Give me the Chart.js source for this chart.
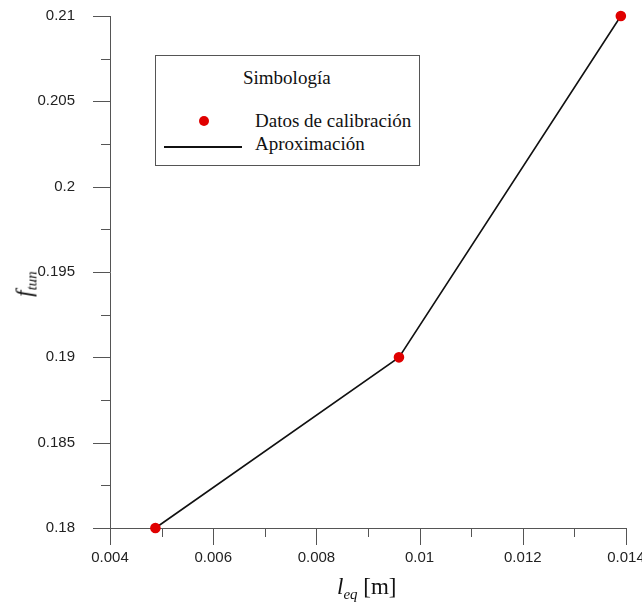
<!DOCTYPE html>
<html>
<head>
<meta charset="utf-8">
<script src="https://cdn.jsdelivr.net/npm/chart.js@4.4.1/dist/chart.umd.min.js"></script>
<style>
  html, body { margin: 0; padding: 0; background: #fff; }
  #wrap { position: relative; width: 642px; height: 603px; }
  canvas { position: absolute; left: 0; top: 0; }
  .serif { font-family: "Liberation Serif", "Times New Roman", serif; color: #111; position: absolute; white-space: nowrap; line-height: 1; }
  #legend { position: absolute; left: 155px; top: 55px; width: 263px; height: 109px; border: 1px solid #555; background: #fff; }
  #legend .title { left: 87px; top: 12px; font-size: 19px; }
  #legend .dot { position: absolute; left: 43px; top: 60px; width: 10px; height: 10px; border-radius: 50%; background: #e00000; }
  #legend .line { position: absolute; left: 8px; top: 90px; width: 78px; height: 2px; background: #111; }
  #legend .lbl1 { left: 99px; top: 55px; font-size: 19px; }
  #legend .lbl2 { left: 99px; top: 78px; font-size: 19px; }
  #xtitle { left: 337px; top: 575px; font-size: 23px; }
  #ytitle { left: 26px; top: 284px; font-size: 23px; transform: translate(-50%, -50%) rotate(-90deg); }
  sub { font-size: 15px; vertical-align: -5px; }
</style>
</head>
<body>
<div id="wrap">
  <canvas id="chart" width="642" height="603"></canvas>
  <div id="legend">
    <div class="serif title">Simbología</div>
    <span class="dot"></span>
    <div class="serif lbl1">Datos de calibración</div>
    <span class="line"></span>
    <div class="serif lbl2">Aproximación</div>
  </div>
  <div id="xtitle" class="serif"><i>l</i><sub><i>eq</i></sub> [m]</div>
  <div id="ytitle" class="serif"><i>f</i><sub><i>tun</i></sub></div>
</div>
<script>
// ── Data ──────────────────────────────────────────────────
const leq  = [0.00488, 0.0096, 0.0139];
const ftun = [0.18, 0.19, 0.21];

const xTicks = [0.004, 0.006, 0.008, 0.01, 0.012, 0.014];
const xTickLabels = ['0.004', '0.006', '0.008', '0.01', '0.012', '0.014'];
const yTicks = [0.18, 0.185, 0.19, 0.195, 0.2, 0.205, 0.21];
const yTickLabels = ['0.18', '0.185', '0.19', '0.195', '0.2', '0.205', '0.21'];

const AXIS_COLOR = '#555';

// majors + one minor between each pair
function withMinors(majors, labels) {
  const out = [];
  majors.forEach((v, i) => {
    out.push({ value: v, label: labels[i], major: true });
    if (i < majors.length - 1) out.push({ value: (v + majors[i + 1]) / 2, label: '', major: false });
  });
  return out;
}

// ── Outward ticks (major long, minor short) ───────────────
const tickMarks = {
  id: 'tickMarks',
  afterDraw(chart) {
    const { ctx, scales: { x, y } } = chart;
    ctx.save();
    ctx.strokeStyle = AXIS_COLOR;
    ctx.lineWidth = 1;
    ctx.beginPath();
    x.ticks.forEach(t => {
      const px = Math.round(x.getPixelForValue(t.value)) + 0.5;
      ctx.moveTo(px, y.bottom);
      ctx.lineTo(px, y.bottom + (t.major ? 17 : 9));
    });
    y.ticks.forEach(t => {
      const py = Math.round(y.getPixelForValue(t.value)) + 0.5;
      ctx.moveTo(x.left, py);
      ctx.lineTo(x.left - (t.major ? 17 : 9), py);
    });
    ctx.stroke();
    ctx.restore();
  }
};

new Chart(document.getElementById('chart'), {
  type: 'scatter',
  data: {
    datasets: [{
      data: leq.map((v, i) => ({ x: v, y: ftun[i] })),
      showLine: true,
      borderColor: '#111',
      borderWidth: 1.6,
      pointBackgroundColor: '#e00000',
      pointBorderColor: '#e00000',
      pointRadius: 4.5,
      pointHoverRadius: 4.5,
      clip: false,
    }]
  },
  options: {
    responsive: false,
    animation: false,
    layout: { padding: { top: 16, right: 16, left: 0, bottom: 0 } },
    plugins: { legend: { display: false }, tooltip: { enabled: false } },
    scales: {
      x: {
        type: 'linear',
        min: 0.004, max: 0.014,
        afterBuildTicks: s => { s.ticks = withMinors(xTicks, xTickLabels); },
        afterFit: s => { s.height = 75; s.paddingLeft = 0; s.paddingRight = 0; },
        grid: { display: false },
        border: { display: true, color: AXIS_COLOR, width: 1 },
        ticks: {
          autoSkip: false, maxRotation: 0, padding: 13,
          color: '#222', font: { family: 'Liberation Sans, Arial, sans-serif', size: 15 },
          callback: (v, i, ticks) => ticks[i].label,
        },
      },
      y: {
        type: 'linear',
        min: 0.18, max: 0.21,
        afterBuildTicks: s => { s.ticks = withMinors(yTicks, yTickLabels); },
        afterFit: s => { s.width = 110; s.paddingTop = 0; s.paddingBottom = 0; },
        grid: { display: false },
        border: { display: true, color: AXIS_COLOR, width: 1 },
        ticks: {
          autoSkip: false, padding: 27,
          color: '#222', font: { family: 'Liberation Sans, Arial, sans-serif', size: 15 },
          callback: (v, i, ticks) => ticks[i].label,
        },
      },
    },
  },
  plugins: [tickMarks],
});
</script>
</body>
</html>
